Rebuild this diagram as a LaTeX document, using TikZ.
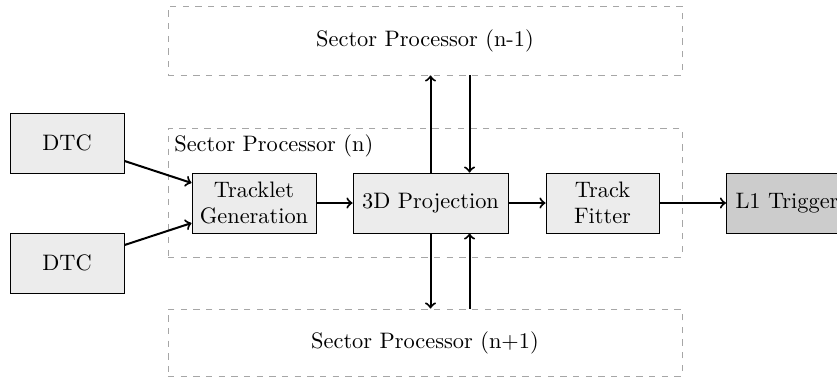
\documentclass[tikz,border=0pt]{standalone}
\usetikzlibrary{positioning}
\begin{document}
\begin{tikzpicture}[x=0.4739pt, y=-0.4739pt,
  every node/.style={font=\fontsize{10.6pt}{12.6pt}\selectfont},
  block/.style={draw, fill=gray!15, minimum height=28.4pt, align=center, inner sep=2pt},
  sector/.style={draw=gray!70, dashed, minimum width=243.6pt},
  link/.style={->, line width=0.95pt}]
  \useasboundingbox (0,0) rectangle (837,378);

  % sector processors
  \node[sector, minimum height=32.7pt] (spU) at (425,40.5) {Sector Processor (n-1)};
  \node[sector, minimum height=61.1pt] (spN) at (425,192.5) {};
  \node[anchor=north west, inner sep=3pt] (spNlab) at (spN.north west) {Sector Processor (n)};
  \node[sector, minimum height=31.8pt] (spD) at (425,342.5) {Sector Processor (n+1)};

  % processing chain
  \node[block, minimum width=54pt] (dtcA) at (67,143) {DTC};
  \node[block, minimum width=54pt] (dtcB) at (67,263) {DTC};
  \node[block, minimum width=58.8pt] (trk) at (254,203) {Tracklet\\Generation};
  \node[block, minimum width=73.5pt] (proj) at (430.5,203) {3D Projection};
  \node[block, minimum width=53.6pt] (fit) at (602.5,203) {Track\\Fitter};
  \node[block, fill=gray!40, anchor=west, inner xsep=4.3pt] (l1) at (726,203) {L1 Trigger};

  \draw[link] ([yshift=-8.5pt]dtcA.east) -- ([yshift=9.5pt]trk.west);
  \draw[link] ([yshift=8.5pt]dtcB.east) -- ([yshift=-9.5pt]trk.west);
  \draw[link] (trk) -- (proj);
  \draw[link] (proj) -- (fit);
  \draw[link] (fit) -- (l1);

  % exchange with neighbouring sectors
  \coordinate (pin) at ([xshift=18.5pt]proj.north);
  \coordinate (pout) at ([xshift=18.5pt]proj.south);
  \draw[link] (proj.north) -- (proj.north |- spU.south);
  \draw[link] (pin |- spU.south) -- (pin);
  \draw[link] (proj.south) -- (proj.south |- spD.north);
  \draw[link] (pout |- spD.north) -- (pout);
\end{tikzpicture}
\end{document}
